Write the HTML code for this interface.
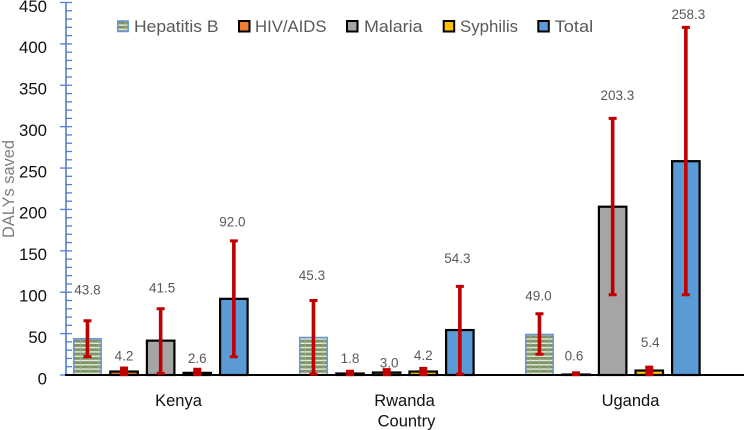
<!DOCTYPE html>
<html lang="en">
<head>
<meta charset="utf-8">
<title>DALYs saved by country</title>
<style>
html,body{margin:0;padding:0;background:#fff;}
svg{display:block;font-family:"Liberation Sans",sans-serif;}
</style>
</head>
<body>
<svg id="chart" xmlns="http://www.w3.org/2000/svg" width="744" height="430" viewBox="0 0 744 430">
  <defs>
    <pattern id="hep-pattern" width="9" height="4.3" patternUnits="userSpaceOnUse">
      <rect width="9" height="4.3" fill="#7f9469"/>
      <rect y="2.9" width="9" height="1.4" fill="#e6ecdc"/>
      <rect x="8.4" width="0.6" height="4.3" fill="#a9b899"/>
    </pattern>
  </defs>
  <rect width="744" height="430" fill="#fff"/>
  <text transform="translate(14,238) rotate(-90)" font-size="16.2" fill="#7f7f7f" textLength="98" lengthAdjust="spacingAndGlyphs">DALYs saved</text>
  <text x="406.5" y="426.5" text-anchor="middle" font-size="16.5" fill="#111">Country</text>
  <g id="y-axis"></g>
  <g id="bars"></g>
  <g id="x-axis"></g>
  <g id="error-bars"></g>
  <g id="value-labels"></g>
  <g id="legend"></g>
</svg>
<script>
const categories = ['Kenya', 'Rwanda', 'Uganda'];
const seriesNames = ['Hepatitis B', 'HIV/AIDS', 'Malaria', 'Syphilis', 'Total'];
const yTicks = [0, 50, 100, 150, 200, 250, 300, 350, 400, 450];

const hepatitisB = [43.8, 45.3, 49.0];
const hivAids = [4.2, 1.8, 0.6];
const malaria = [41.5, 3.0, 203.3];
const syphilis = [2.6, 4.2, 5.4];
const total = [92.0, 54.3, 258.3];

const hepatitisBHigh = [65.5, 90, 74];
const hepatitisBLow = [22, 1, 25];
const hivAidsHigh = [8.5, 4.5, 2.5];
const hivAidsLow = [0.5, 0.5, 0.5];
const malariaHigh = [80, 6.5, 310];
const malariaLow = [2, 0.5, 97];
const syphilisHigh = [7, 8, 9.5];
const syphilisLow = [0.5, 0.5, 0.5];
const totalHigh = [162, 107, 420];
const totalLow = [22, 1, 97];

(function () {
  const NS = 'http://www.w3.org/2000/svg';
  const seriesValues = [hepatitisB, hivAids, malaria, syphilis, total];
  const seriesHigh = [hepatitisBHigh, hivAidsHigh, malariaHigh, syphilisHigh, totalHigh];
  const seriesLow = [hepatitisBLow, hivAidsLow, malariaLow, syphilisLow, totalLow];
  const slugs = ['hepatitis-b', 'hiv-aids', 'malaria', 'syphilis', 'total'];
  const fills = ['url(#hep-pattern)', '#ED7D31', '#A5A5A5', '#FFC000', '#5B9BD5'];
  const strokes = ['#6595dc', '#000', '#000', '#000', '#000'];
  const legendLayout = [[116.7, 134, 84.5], [238, 255, 71.5], [346, 364, 58.5], [442.7, 460, 58], [537.3, 554.7, 38.5]];
  const labelShift = [
    [[0, -31], [0, -12], [1.5, -21], [0, -11], [-1.5, -19]],
    [[-1.5, -25], [0, -13], [2.5, -7], [0, -13], [-2.5, -28]],
    [[-1, -18], [-2, -17], [4.7, -23], [1, -25], [2.5, -13]]
  ];

  const y0 = 375;
  const pxPerUnit = 372.5 / 450;
  const y = v => y0 - v * pxPerUnit;
  const barWidth = 27.5;
  const barLeft = (c, s) => 73.7 + c * 226 + s * 36.6;
  const barCenter = (c, s) => barLeft(c, s) + barWidth / 2;
  const categoryCenter = c => 179 + c * 226;

  function add(parent, tag, attrs, text) {
    const el = document.createElementNS(NS, tag);
    for (const k in attrs) el.setAttribute(k, attrs[k]);
    if (text !== undefined) el.textContent = text;
    parent.appendChild(el);
    return el;
  }

  const yAxis = document.getElementById('y-axis');
  const barsG = document.getElementById('bars');
  const xAxis = document.getElementById('x-axis');
  const errG = document.getElementById('error-bars');
  const labelsG = document.getElementById('value-labels');
  const legendG = document.getElementById('legend');

  const axisLine = add(yAxis, 'line', {x1: 66, x2: 66, y1: y(450), y2: y0, stroke: '#4f81d4', 'stroke-width': 1.6});
  
  

  for (let v = 0; v <= 450; v += 10) {
    const major = v % 50 === 0;
    const tick = add(yAxis, 'line', {x1: major ? 60 : 66, x2: 72, y1: y(v), y2: y(v), stroke: '#4f81d4', 'stroke-width': 1.3});
    
    
  }
  yTicks.forEach(v => {
    const t = add(yAxis, 'text', {x: 47, y: y(v) + 9.3, 'text-anchor': 'end', 'font-size': 16.8, fill: '#111'}, String(v));
    
    
  });

  seriesValues.forEach((vals, s) => {
    vals.forEach((v, c) => {
      const strokeW = s === 0 ? 1.5 : 2.2;
      const top = y(v);
      const bar = add(barsG, 'rect', {
        x: barLeft(c, s), y: top, width: barWidth, height: Math.max(y0 - top, 0),
        fill: fills[s], stroke: strokes[s], 'stroke-width': strokeW
      });
      
      

      const cx = barCenter(c, s);
      const hi = seriesHigh[s][c];
      const lo = seriesLow[s][c];
      const stem = hi - lo < 12 ? 8 : 3.6;
      const err = add(errG, 'path', {
        d: 'M' + (cx - stem / 2) + ' ' + y(hi) + 'H' + (cx + stem / 2) + 'V' + y(lo) + 'H' + (cx - stem / 2) + 'Z' +
           'M' + (cx - 4) + ' ' + (y(hi) - 1.5) + 'h8v3h-8Z' +
           'M' + (cx - 4) + ' ' + (y(lo) - 1.5) + 'h8v3h-8Z',
        fill: '#C00000'
      });
      
      

      const shift = labelShift[c][s];
      const label = add(labelsG, 'text', {
        x: cx + shift[0], y: y(hi) + shift[1] + 4.7,
        'text-anchor': 'middle', 'font-size': 13.5, fill: '#595959'
      }, v.toFixed(1));
      
      
    });
  });

  const baseLine = add(xAxis, 'line', {x1: 65, x2: 744, y1: y0, y2: y0, stroke: '#000', 'stroke-width': 2});
  
  

  categories.forEach((name, c) => {
    const t = add(xAxis, 'text', {x: categoryCenter(c) - 0.5, y: 406, 'text-anchor': 'middle', 'font-size': 16.5, fill: '#111'}, name);
    
    
  });

  seriesNames.forEach((name, s) => {
    const lay = legendLayout[s];
    const swatch = add(legendG, 'rect', {
      x: lay[0] + 1, y: 21, width: 10.5, height: 10.5,
      fill: fills[s], stroke: strokes[s], 'stroke-width': s === 0 ? 1.5 : 2
    });
    
    
    const t = add(legendG, 'text', {
      x: lay[1], y: 32, 'font-size': 16.5, fill: '#595959',
      textLength: lay[2], lengthAdjust: 'spacingAndGlyphs'
    }, name);
    
    
  });
})();
</script>
</body>
</html>
